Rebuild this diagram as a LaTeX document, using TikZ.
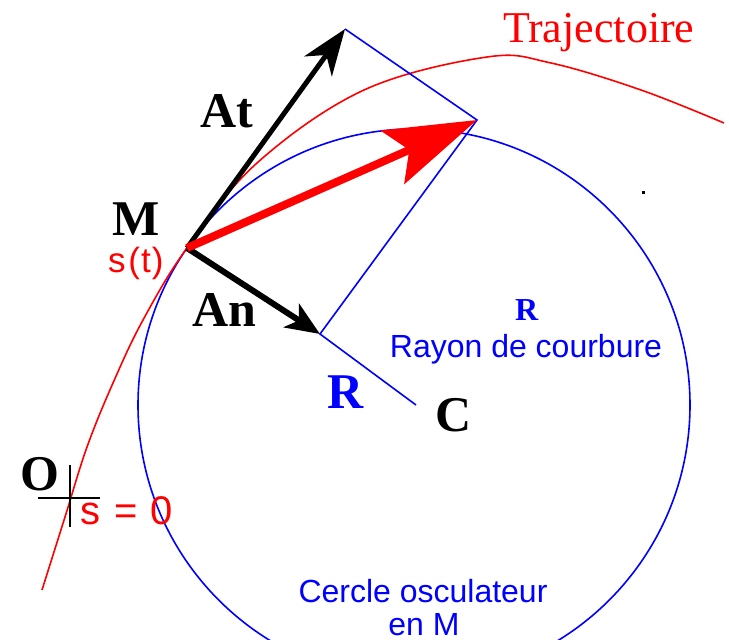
\documentclass[tikz,border=0pt]{standalone}
\usepackage{fontspec}
\setmainfont{Liberation Serif}
\setsansfont{Liberation Sans}
\usetikzlibrary{arrows.meta}
\definecolor{tred}{RGB}{255,0,0}
\definecolor{tblue}{RGB}{0,0,255}
\begin{document}
\begin{tikzpicture}[x=1pt,y=-1pt,
  blueline/.style={draw=tblue, line width=1.6pt},
  redline/.style={draw=tred, line width=1.6pt},
  lbl/.style={inner sep=0pt, outer sep=0pt, anchor=base west},
  bigbold/.style={lbl, font=\fontsize{50}{56}\selectfont\bfseries},
  sanslbl/.style={inner sep=0pt, outer sep=0pt, anchor=base, font=\sffamily\fontsize{32}{36}\selectfont, text=tblue}]
\useasboundingbox (0,0) rectangle (729,640);
\clip (0,0) rectangle (729,640);
% key points
\coordinate (M) at (187,248);
\coordinate (At) at (345,29);
\coordinate (An) at (320,334);
\coordinate (S) at (477,120);
\coordinate (C) at (416,405);
\coordinate (O) at (70,498);
% osculating circle
\draw[blueline] (414,405) circle[radius=276pt];
% trajectory
\draw[redline] plot[smooth, tension=0.6] coordinates {(42,590) (65,517) (87,447) (113,383) (143,320) (187,248) (257,163) (364,90) (487,57) (551,63) (641,90) (724,123)};
% parallelogram and radius
\draw[blueline] (At) -- (S) -- (An) -- (C);
% origin cross
\draw[line width=2pt] ([yshift=-29pt]O) -- ([yshift=33pt]O);
\draw[line width=2pt] ([xshift=-32pt]O) -- ([xshift=30pt]O);
% vectors
\draw[line width=5pt, -{Stealth[length=46pt,width=34pt,inset=14pt]}] (M) -- (At);
\draw[line width=6pt, -{Stealth[length=34pt,width=28pt,inset=9pt]}] (M) -- (An);
\draw[tred, line width=8pt, -{Stealth[length=92pt,width=58pt,inset=18pt]}] (M) -- (S);
% stray dot
\fill (642,191) rectangle (645,194);
% labels
\node[lbl, text=tred, font=\fontsize{44}{50}\selectfont] (traj) at (503,42) {Trajectoire};
\node[bigbold] (lAt) at (200,127) {At};
\node[bigbold] (lM) at (112,235) {M};
\node[lbl, text=tred, font=\sffamily\fontsize{35}{40}\selectfont] (lst) at (108,272) {s\hspace{3pt}(\hspace{1pt}t\hspace{1pt})};
\node[bigbold] (lAn) at (192,326) {An};
\node[lbl, text=tblue, font=\fontsize{32}{36}\selectfont\bfseries] (lr) at (515,320) {R};
\node[sanslbl] (lray) at (526,357) {Rayon de courbure};
\node[bigbold, text=tblue] (lR) at (327,408) {R};
\node[bigbold] (lC) at (435,431) {C};
\node[bigbold] (lO) at (20,490) {O};
\node[lbl, text=tred, font=\sffamily\fontsize{40}{44}\selectfont] (ls0) at (80,524) {s\hspace{14pt}=\hspace{13pt}0};
\node[sanslbl] (lcer) at (423,602) {Cercle osculateur};
\node[sanslbl] (lenm) at (424,635) {en M};
\end{tikzpicture}
\end{document}
